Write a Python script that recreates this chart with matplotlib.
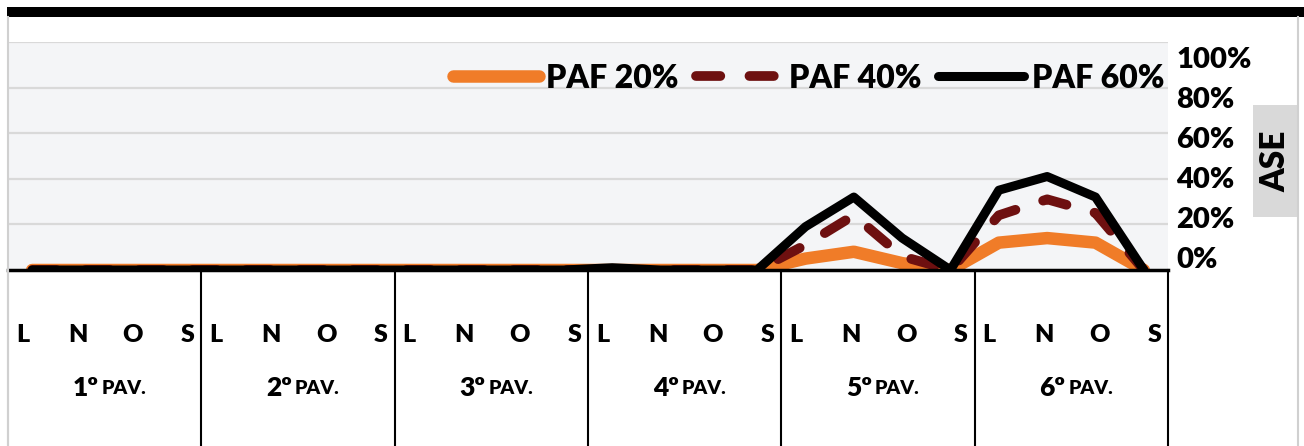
import numpy as np
import matplotlib
matplotlib.use("Agg")
import matplotlib.pyplot as plt
from matplotlib.patches import Rectangle
from matplotlib.lines import Line2D

plt.rcParams['font.family'] = ['Lato', 'DejaVu Sans']

# Data
floors = ['1º', '2º', '3º', '4º', '5º', '6º']
orient = ['L', 'N', 'O', 'S']
paf20 = [0, 0, 0, 0,  0, 0, 0, 0,  0, 0, 0, 0,  0, 0, 0, 0,  5, 8, 3, 0,  12, 14, 12, 0]
paf40 = [0, 0, 0, 0,  0, 0, 0, 0,  0, 0, 0, 0,  0, 0, 0, 0,  11, 24, 6, 0,  24, 31, 25, 0]
paf60 = [0, 0, 0, 0,  0, 0, 0, 0,  0, 0, 0, 0,  1, 0, 0, 0,  19, 32, 14, 0,  35, 41, 32, 0]
yticks = [0, 20, 40, 60, 80, 100]

W, H = 1304, 446
fig = plt.figure(figsize=(W / 100, H / 100), dpi=100)

def fx(px):
    return px / W

def fy(py):
    return (H - py) / H

x = np.arange(len(paf20))
bold = 'heavy'

# Plot area
ax = fig.add_axes([fx(8), fy(270), fx(1160), 228 / H])
ax.set_facecolor('#F4F5F7')
ax.set_xlim(-0.5, len(x) - 0.5)
ax.set_ylim(0, 100)
for s in ax.spines.values():
    s.set_visible(False)
ax.set_xticks([])
ax.set_yticks([])
for g in yticks[1:]:
    ax.axhline(g, color='#D9D9D9', lw=1.6, zorder=1)

ax.plot(x, paf20, color='#F07C28', lw=9, solid_capstyle='round',
        solid_joinstyle='round', clip_on=False, zorder=3, label='PAF 20%')
ax.plot(x, paf40, color='#6E1010', lw=7, dashes=(2.5, 3.0), dash_capstyle='round',
        clip_on=False, zorder=4, label='PAF 40%')
ax.plot(x, paf60, color='black', lw=6.5, solid_capstyle='round',
        solid_joinstyle='round', clip_on=False, zorder=5, label='PAF 60%')

ax.legend(loc='center right', bbox_to_anchor=(fx(1164), fy(78)), bbox_transform=fig.transFigure,
          ncol=3, frameon=False, borderpad=0, borderaxespad=0, handlelength=2.7,
          handletextpad=0.22, columnspacing=0.53, prop={'size': 23, 'weight': bold})

# Category axis (two levels)
cat = fig.add_axes([fx(8), 0, fx(1160), 176 / H])
cat.set_xlim(-0.5, len(x) - 0.5)
cat.set_ylim(0, 1)
cat.set_xticks([])
cat.set_yticks([])
cat.spines['bottom'].set_visible(False)
cat.spines['top'].set_linewidth(2.5)
cat.spines['right'].set_linewidth(1.5)
cat.spines['left'].set_color('#D0D0D0')
cat.spines['left'].set_linewidth(1.5)
for k in range(1, len(floors)):
    cat.axvline(4 * k - 0.5, color='black', lw=1.5)
for k, fl in enumerate(floors):
    start = 4 * k - 0.5
    for j, o in enumerate(orient):
        cat.text(start + 0.3 + j * 1.14, 0.63, o, ha='center', va='center',
                 fontsize=18, fontweight=bold)
    cx = start + 2
    cat.text(cx - 0.12, 0.33, fl, ha='right', va='center', fontsize=19, fontweight=bold)
    cat.text(cx - 0.06, 0.325, 'PAV.', ha='left', va='center', fontsize=14, fontweight=bold)

# Right value labels
lab = fig.add_axes([fx(1168), fy(257), 0.0001, 200 / H])
lab.set_ylim(0, 100)
lab.set_xticks([])
lab.set_yticks(yticks)
lab.set_yticklabels([f'{v}%' for v in yticks])
lab.yaxis.tick_right()
lab.tick_params(axis='y', length=0, pad=6, labelsize=21)
for t in lab.get_yticklabels():
    t.set_fontweight(bold)
for s in lab.spines.values():
    s.set_visible(False)

# ASE title box
fig.patches.append(Rectangle((fx(1253), fy(217)), fx(45), 112 / H, transform=fig.transFigure,
                             facecolor='#D9D9D9', edgecolor='none'))
fig.text(fx(1275.5), fy(161), 'ASE', rotation=90, ha='center', va='center',
         fontsize=24, fontweight=bold)

# Frame
fig.patches.append(Rectangle((fx(7), fy(17)), fx(1297), 10 / H, transform=fig.transFigure,
                             facecolor='black', edgecolor='none'))
fig.lines.append(Line2D([fx(8), fx(8)], [0, fy(17)], transform=fig.transFigure,
                        color='#D0D0D0', lw=1.5))
fig.lines.append(Line2D([fx(1298), fx(1298)], [0, fy(17)], transform=fig.transFigure,
                        color='#D0D0D0', lw=1.5))

fig.savefig('out.png', dpi=100)
